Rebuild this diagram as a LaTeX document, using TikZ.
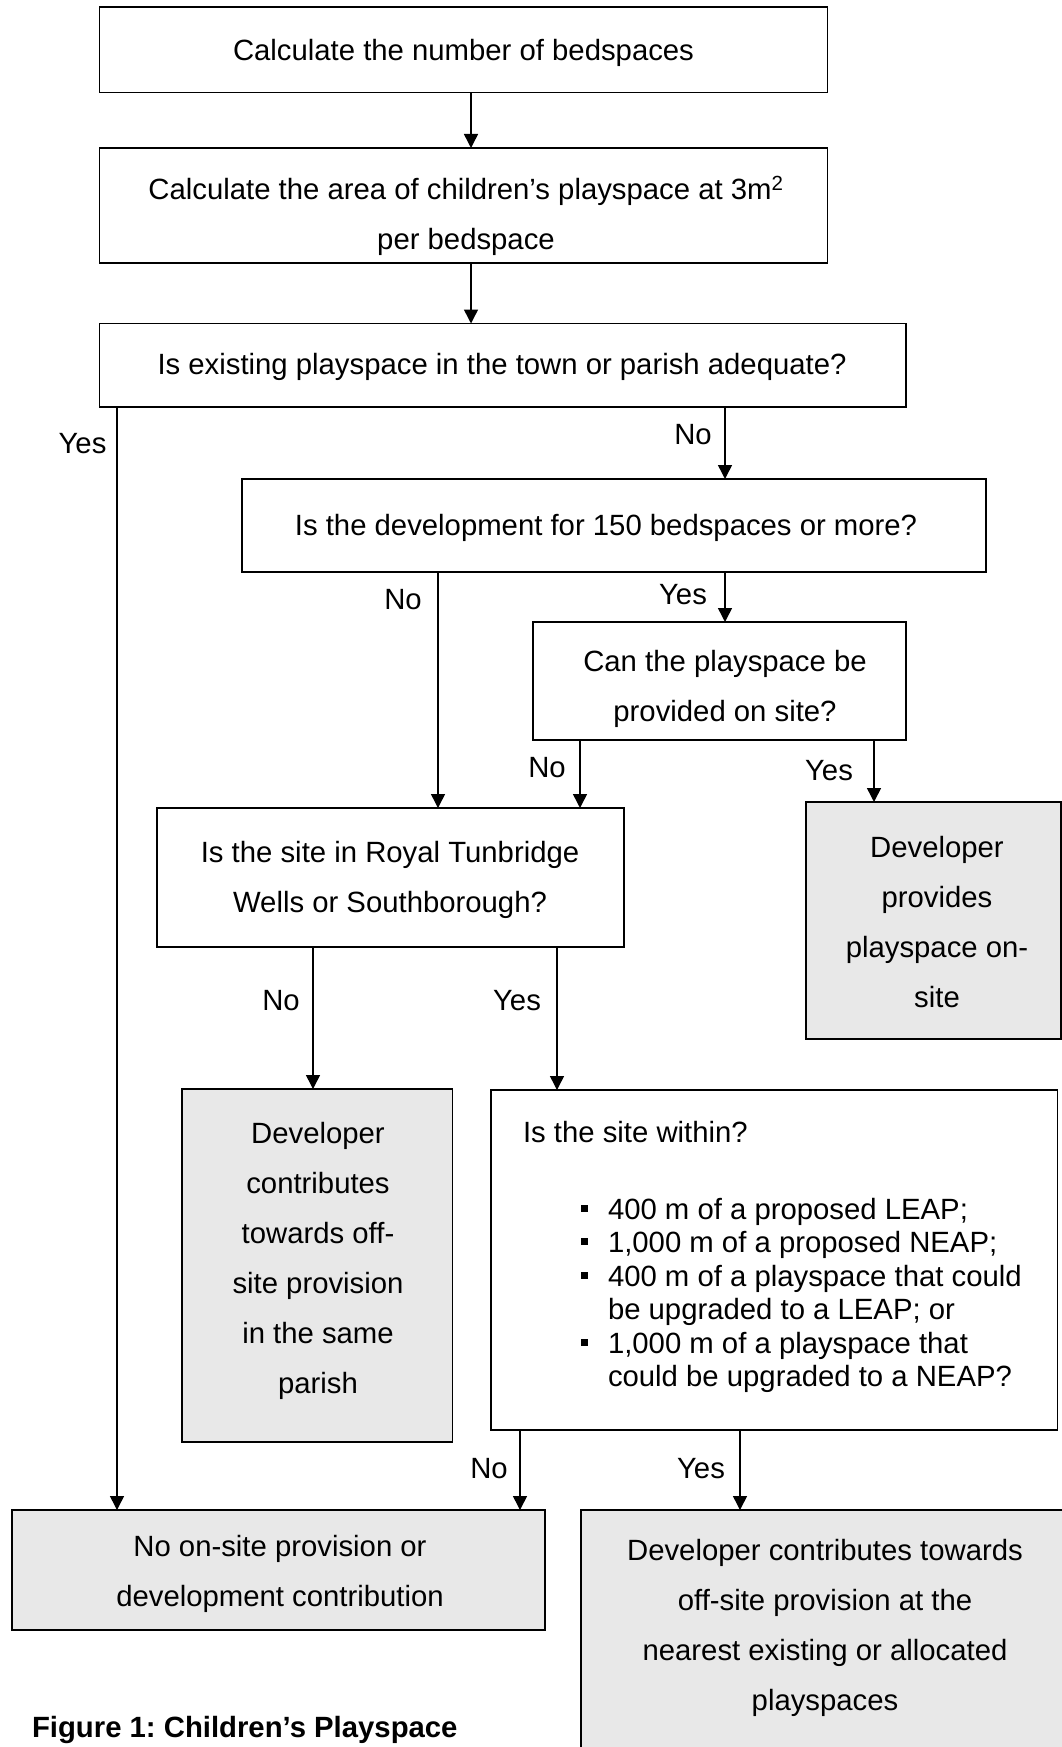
\documentclass[tikz,border=0pt]{standalone}
\usepackage{fontspec}
\setmainfont{Liberation Sans}
\usetikzlibrary{arrows.meta}
\definecolor{boxgray}{RGB}{232,232,232}
\newcommand\mybul{\makebox[27pt][l]{\rule[7.5pt]{7pt}{7pt}}}
\frenchspacing
\begin{document}
\begin{tikzpicture}[x=1pt,y=-1pt,
  flowbox/.style={draw=black,line width=1.5pt,rectangle,inner sep=0pt,outer sep=0pt},
  endbox/.style={flowbox,fill=boxgray},
  txt/.style={inner sep=0pt,outer sep=0pt,align=center,font=\fontsize{29.3}{50}\selectfont},
  lbl/.style={inner sep=0pt,outer sep=0pt,font=\fontsize{29.3}{35}\selectfont},
  arr/.style={line width=1.5pt,-{Triangle[length=14pt,width=14pt]}},
  plain/.style={line width=1.5pt}]
\clip (0,0) rectangle (1062,1747);
\fill[white] (0,0) rectangle (1062,1747);
% boxes
\node[flowbox,minimum width=728pt,minimum height=85.5pt] (b1) at (463.5,49.75) {};
\node[flowbox,minimum width=728pt,minimum height=115pt] (b2) at (463.5,205.5) {};
\node[flowbox,minimum width=806.5pt,minimum height=83.5pt] (b3) at (502.75,365.25) {};
\node[flowbox,minimum width=744pt,minimum height=93pt] (b4) at (614,525.5) {};
\node[flowbox,minimum width=373pt,minimum height=118pt] (b5) at (719.5,681) {};
\node[flowbox,minimum width=467pt,minimum height=139pt] (b6) at (390.5,877.5) {};
\node[endbox,minimum width=255pt,minimum height=237pt] (b7) at (933.5,920.5) {};
\node[endbox,minimum width=270.5pt,minimum height=353pt] (b8) at (317.25,1265.5) {};
\node[flowbox,minimum width=566.5pt,minimum height=340pt] (b9) at (774.25,1260) {};
\node[endbox,minimum width=533pt,minimum height=120pt] (b10) at (278.5,1570) {};
\node[endbox,minimum width=494pt,minimum height=255pt] (b11) at (828,1637.5) {};
% texts
\node[txt] (t1) at (463.5,53) {Calculate the number of bedspaces};
\node[txt] (t2) at (466,216) {Calculate the area of children’s playspace at 3m\textsuperscript{2}\\per bedspace};
\node[txt] (t3) at (502,367) {Is existing playspace in the town or parish adequate?};
\node[txt] (t4) at (606,528) {Is the development for 150 bedspaces or more?};
\node[txt] (t5) at (725,689) {Can the playspace be\\provided on site?};
\node[txt] (t6) at (390,880) {Is the site in Royal Tunbridge\\Wells or Southborough?};
\node[txt] (t7) at (937,922) {Developer\\provides\\playspace on-\\site};
\node[txt] (t8) at (318,1261) {Developer\\contributes\\towards off-\\site provision\\in the same\\parish};
\node[txt,anchor=west] (t9) at (523,1132) {Is the site within?};
\node[txt,align=left,anchor=west,font=\fontsize{29.3}{33.4}\selectfont] (t9list) at (581,1295.5)
  {\mybul 400 m of a proposed LEAP;\\
   \mybul 1,000 m of a proposed NEAP;\\
   \mybul 400 m of a playspace that could\\
   \hspace*{27pt}be upgraded to a LEAP; or\\
   \mybul 1,000 m of a playspace that\\
   \hspace*{27pt}could be upgraded to a NEAP?};
\node[txt] (t10) at (280,1574) {No on-site provision or\\development contribution};
\node[txt] (t11) at (825,1628) {Developer contributes towards\\off-site provision at the\\nearest existing or allocated\\playspaces};
\node[txt,anchor=base west,font=\bfseries\fontsize{29.3}{35}\selectfont] (cap) at (32,1737) {Figure 1: Children’s Playspace};
% connector x positions
\coordinate (xa) at (471,0);
\coordinate (xyes) at (117,0);
\coordinate (xno1) at (725,0);
\coordinate (xno2) at (438,0);
\coordinate (xno3) at (580,0);
\coordinate (xyes3) at (874,0);
\coordinate (xno4) at (313,0);
\coordinate (xyes4) at (557,0);
\coordinate (xno5) at (520,0);
\coordinate (xyes5) at (740,0);
% connectors
\draw[arr] (b1.south -| xa) -- (b2.north -| xa);
\draw[arr] (b2.south -| xa) -- (b3.north -| xa);
\draw[arr] (b3.south -| xyes) -- (b10.north -| xyes);
\draw[arr] (b3.south -| xno1) -- (b4.north -| xno1);
\draw[arr] (b4.south -| xno2) -- (b6.north -| xno2);
\draw[arr] (b4.south -| xno1) -- (b5.north -| xno1);
\draw[arr] (b5.south -| xno3) -- (b6.north -| xno3);
\draw[arr] (b5.south -| xyes3) -- (b7.north -| xyes3);
\draw[arr] (b6.south -| xno4) -- (b8.north -| xno4);
\draw[arr] (b6.south -| xyes4) -- (b9.north -| xyes4);
\draw[arr] (b9.south -| xno5) -- (b10.north -| xno5);
\draw[arr] (b9.south -| xyes5) -- (b11.north -| xyes5);
% labels
\node[lbl] (l1) at (82.5,444) {Yes};
\node[lbl] (l2) at (693,435) {No};
\node[lbl] (l3) at (403,600) {No};
\node[lbl] (l4) at (683,595) {Yes};
\node[lbl] (l5) at (547,768) {No};
\node[lbl] (l6) at (829,771) {Yes};
\node[lbl] (l7) at (281,1001) {No};
\node[lbl] (l8) at (517,1001) {Yes};
\node[lbl] (l9) at (489,1469) {No};
\node[lbl] (l10) at (701,1469) {Yes};
\end{tikzpicture}
\end{document}
